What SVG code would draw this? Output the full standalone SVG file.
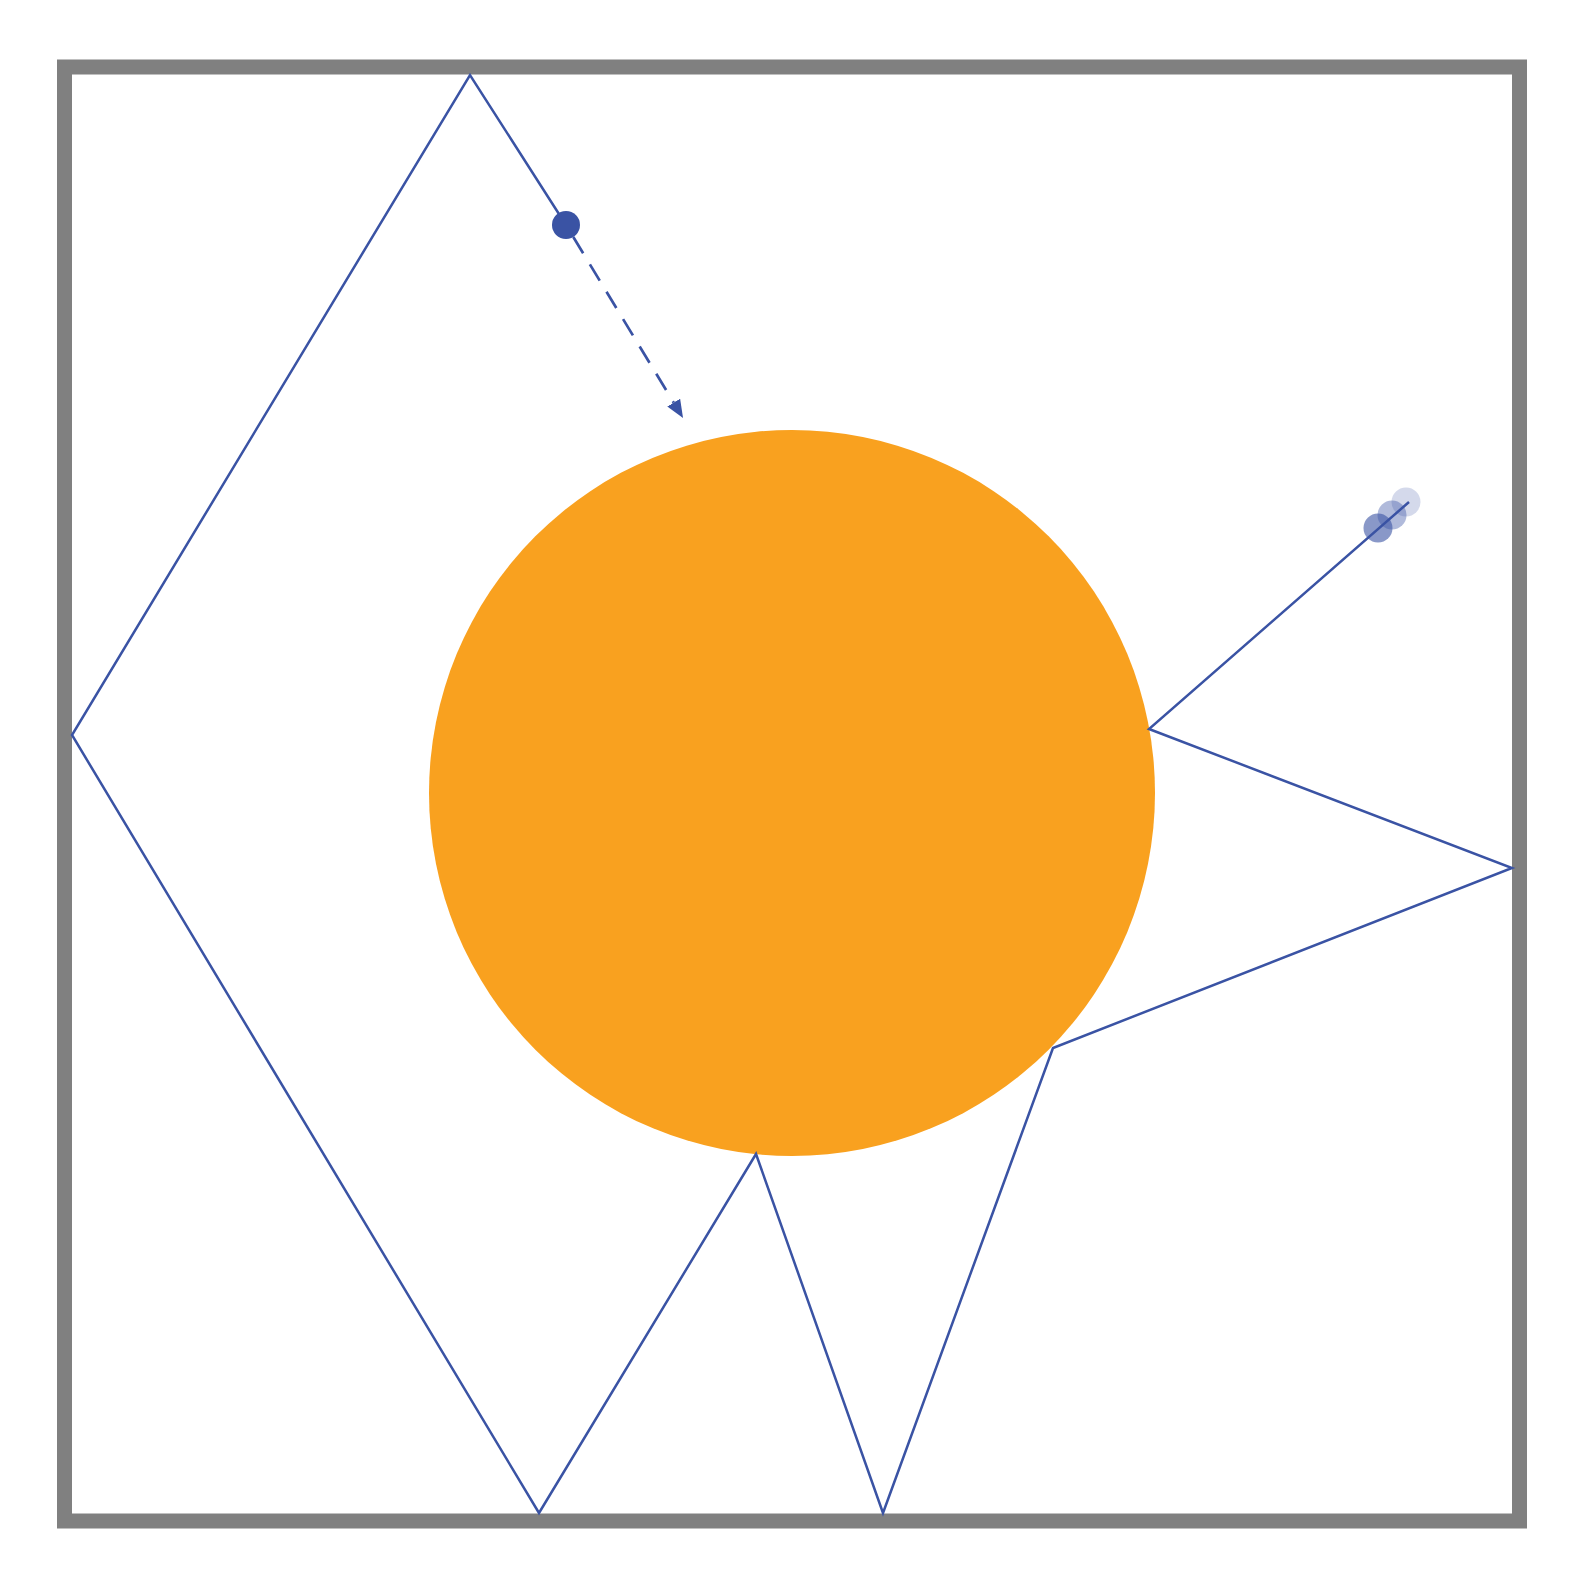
<svg xmlns="http://www.w3.org/2000/svg" width="1590" height="1590" viewBox="0 0 1590 1590">
  <style>
    .traj { fill: none; stroke: #3A53A4; stroke-width: 2.5; stroke-linejoin: miter; }
    .vel { fill: none; stroke: #3A53A4; stroke-width: 2.7; stroke-dasharray: 19 13; }
    .ball { fill: #3A53A4; }
  </style>
  <defs>
    <marker id="arrow" viewBox="0 0 18 15" refX="0" refY="7.5" markerWidth="18" markerHeight="15" markerUnits="userSpaceOnUse" orient="auto">
      <path d="M0,0 L18,7.5 L0,15 Z" fill="#3A53A4"/>
    </marker>
  </defs>
  <rect width="1590" height="1590" fill="#ffffff"/>
  <g id="box">
    <rect x="64.5" y="67" width="1455" height="1454" fill="none" stroke="#808080" stroke-width="15"/>
  </g>
  <g id="obstacle">
    <circle cx="792" cy="793" r="363" fill="#F9A11F"/>
  </g>
  <g id="connectors">
    <polyline class="traj" points="566,225 470,75 72,735 539,1513 756,1154 883,1513 1053,1048 1512,868 1149,729 1409,502"/>
    <line class="vel" x1="573.3" y1="237" x2="673.7" y2="402.6" marker-end="url(#arrow)"/>
  </g>
  <g id="ball">
    <circle class="ball" cx="566" cy="225" r="14"/>
  </g>
  <g id="ghosts">
    <circle class="ball" cx="1406" cy="502" r="14.5" opacity="0.22"/>
    <circle class="ball" cx="1392" cy="515" r="14.5" opacity="0.4"/>
    <circle class="ball" cx="1378" cy="528" r="14.5" opacity="0.6"/>
  </g>
</svg>
